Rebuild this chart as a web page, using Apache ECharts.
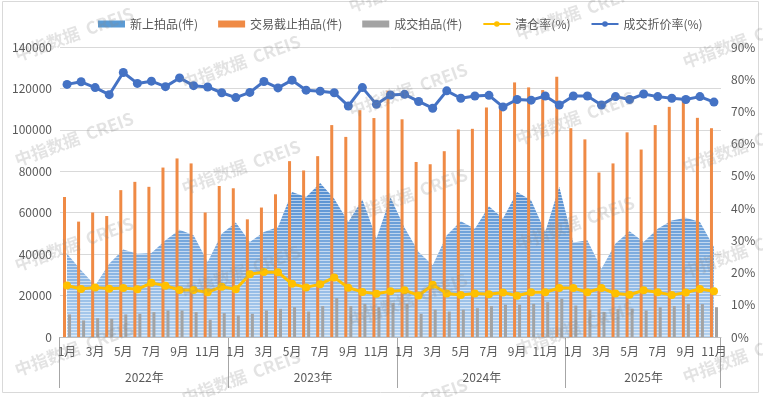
<!DOCTYPE html>
<html>
<head>
<meta charset="utf-8">
<script src="https://cdn.jsdelivr.net/npm/echarts@6/dist/echarts.min.js"></script>
<style>
html,body{margin:0;padding:0;background:#fff;}
#chart{width:763px;height:397px;}
</style>
</head>
<body>
<div id="chart"></div>
<script>
// ---- data ----
const years = ['2022年', '2023年', '2024年', '2025年'];
const monthsPerYear = [12, 12, 12, 11];
const monthNames = ['1月','2月','3月','4月','5月','6月','7月','8月','9月','10月','11月','12月'];

const newListed = [
  40200, 32200, 24900, 35400, 42300, 40200, 40500, 46700, 51800, 49100, 36200, 49900,
  55300, 45900, 50700, 53100, 70000, 67600, 74400, 66800, 55500, 66400, 47500, 67300,
  52700, 41000, 34600, 49100, 55900, 52300, 63100, 57200, 70000, 66000, 50700, 72500,
  45600, 46700, 33000, 45100, 51000, 45900, 52300, 56300, 57600, 55500, 43400
];
const deadlineItems = [
  67600, 55700, 60100, 58400, 70900, 74900, 72500, 81800, 86200, 83800, 60100, 72900,
  71800, 56800, 62500, 68900, 84900, 80400, 87300, 102300, 96600, 109500, 105700, 118900,
  105100, 84500, 83400, 89700, 100200, 100500, 110800, 111500, 122900, 120500, 119200, 125600,
  100800, 95400, 79400, 83800, 98800, 90500, 102300, 111100, 114700, 105800, 100800
];
const dealtItems = [
  10900, 8000, 9100, 8800, 10900, 11200, 12000, 12800, 12800, 12000, 8300, 11500,
  10400, 11200, 12800, 13600, 14400, 12300, 14900, 18800, 14900, 16000, 14400, 16400,
  16000, 11200, 13200, 12300, 13200, 13900, 14900, 15600, 15600, 16000, 16800, 18500,
  15200, 13200, 12000, 13600, 13600, 12800, 14400, 14900, 16000, 15900, 14400
];
const clearanceRate = [
  16.0, 14.9, 15.4, 15.0, 15.2, 14.8, 16.8, 15.9, 14.6, 14.6, 13.9, 15.6,
  14.8, 19.5, 20.2, 20.1, 16.5, 15.4, 16.4, 18.5, 15.3, 14.0, 13.4, 14.2,
  14.5, 12.9, 16.2, 13.5, 13.0, 13.5, 13.3, 13.8, 12.8, 13.9, 13.9, 15.2,
  15.2, 13.9, 15.2, 13.5, 13.1, 14.5, 13.9, 13.0, 13.8, 14.9, 14.2
];
const discountRate = [
  78.4, 79.2, 77.4, 75.2, 82.1, 78.7, 79.4, 77.7, 80.4, 78.0, 77.6, 75.8,
  74.3, 75.9, 79.3, 77.3, 79.7, 76.6, 76.3, 75.8, 71.7, 77.4, 72.2, 75.1,
  75.3, 73.1, 71.0, 76.4, 74.1, 74.8, 75.0, 71.4, 73.7, 73.5, 74.8, 72.0,
  74.8, 74.8, 72.0, 74.6, 73.7, 75.4, 74.6, 74.1, 73.7, 74.6, 72.9
];
const seriesNames = ['新上拍品(件)', '交易截止拍品(件)', '成交拍品(件)', '清仓率(%)', '成交折价率(%)'];
const leftTicks = { min: 0, max: 140000, interval: 20000 };
const rightTicks = { min: 0, max: 90, interval: 10 };

// categories built from the year/month lists
const categories = [];
years.forEach((y, yi) => {
  for (let m = 0; m < monthsPerYear[yi]; m++) categories.push(y + monthNames[m]);
});
const monthOf = c => c.replace(/^\d+年/, '');

const FONT = '"Noto Sans CJK SC", "Noto Sans", sans-serif';
const TXT = '#595959';

// striped gradient pattern for the area
function makeAreaPattern() {
  const c = document.createElement('canvas');
  c.width = 4; c.height = 400;
  const ctx = c.getContext('2d');
  const top = [80, 140, 208], bot = [180, 210, 240];
  for (let y = 0; y < 400; y++) {
    const t = Math.min(1, Math.max(0, (y - 180) / (337 - 180)));
    let col = top.map((v, i) => v + (bot[i] - v) * t);
    if (y % 3 === 2) col = col.map(v => v + (255 - v) * 0.55);
    ctx.fillStyle = 'rgb(' + col.map(Math.round).join(',') + ')';
    ctx.fillRect(0, y, 4, 1);
  }
  return c;
}

const chart = echarts.init(document.getElementById('chart'), null, { renderer: 'canvas' });

const option = {
  animation: false,
  textStyle: { fontFamily: FONT },
  legend: {
    left: 93, top: 13,
    itemWidth: 27, itemHeight: 7, itemGap: 20,
    textStyle: { color: TXT, fontSize: 12, fontFamily: FONT },
    data: [
      { name: seriesNames[0], icon: 'rect' },
      { name: seriesNames[1], icon: 'rect' },
      { name: seriesNames[2], icon: 'rect' },
      { name: seriesNames[3] },
      { name: seriesNames[4] }
    ]
  },
  grid: { left: 60, right: 42, top: 47, bottom: 60, containLabel: false },
  xAxis: [{
    type: 'category',
    data: categories,
    boundaryGap: true,
    axisLine: { show: true, lineStyle: { color: '#BFBFBF', width: 1 } },
    axisTick: { show: false },
    axisLabel: {
      interval: 1, margin: 8, color: TXT, fontSize: 12, fontFamily: FONT,
      formatter: v => monthOf(v)
    },
    splitLine: { show: false }
  }],
  yAxis: [{
    type: 'value', min: leftTicks.min, max: leftTicks.max, interval: leftTicks.interval,
    axisLine: { show: false }, axisTick: { show: false },
    axisLabel: { color: TXT, fontSize: 12, margin: 8, fontFamily: FONT, formatter: v => String(v) },
    splitLine: { lineStyle: { color: '#D9D9D9', width: 1 } }
  }, {
    type: 'value', min: rightTicks.min, max: rightTicks.max, interval: rightTicks.interval,
    position: 'right',
    axisLine: { show: false }, axisTick: { show: false },
    axisLabel: { color: TXT, fontSize: 12, margin: 10, fontFamily: FONT, formatter: '{value}%' },
    splitLine: { show: false }
  }],
  series: [{
    name: seriesNames[0], type: 'line', data: newListed, yAxisIndex: 0,
    symbol: 'none', lineStyle: { width: 0, opacity: 0 },
    itemStyle: { color: '#5B9BD5' },
    areaStyle: { color: { image: makeAreaPattern(), repeat: 'repeat' }, opacity: 1 },
    z: 1
  }, {
    name: seriesNames[1], type: 'bar', data: deadlineItems, yAxisIndex: 0,
    barWidth: 3, barGap: '67%',
    itemStyle: { color: '#EF8A45' }, z: 2
  }, {
    name: seriesNames[2], type: 'bar', data: dealtItems, yAxisIndex: 0,
    barWidth: 3, barGap: '67%',
    itemStyle: { color: '#A3A3A3' }, z: 2
  }, {
    name: seriesNames[3], type: 'line', data: clearanceRate, yAxisIndex: 1,
    symbol: 'circle', symbolSize: 8,
    lineStyle: { color: '#FFC000', width: 3 },
    itemStyle: { color: '#FFC000' }, z: 3
  }, {
    name: seriesNames[4], type: 'line', data: discountRate, yAxisIndex: 1,
    symbol: 'circle', symbolSize: 9,
    lineStyle: { color: '#4472C4', width: 3 },
    itemStyle: { color: '#4472C4' }, z: 4
  }]
};
chart.setOption(option);

// --- year grouping level of the category axis, placed through the axis scale ---
const c0 = chart.convertToPixel({ xAxisIndex: 0 }, 0);
const c1 = chart.convertToPixel({ xAxisIndex: 0 }, 1);
const band = c1 - c0;
const axisY = chart.convertToPixel({ yAxisIndex: 0 }, 0);
const graphics = [];
let start = 0;
const boundaries = [];
years.forEach((y, yi) => {
  const first = chart.convertToPixel({ xAxisIndex: 0 }, start) - band / 2;
  const last = chart.convertToPixel({ xAxisIndex: 0 }, start + monthsPerYear[yi] - 1) + band / 2;
  if (yi === 0) boundaries.push(first);
  boundaries.push(last);
  graphics.push({
    type: 'text', x: (first + last) / 2, y: axisY + 40, silent: true,
    style: { text: y, fill: TXT, fontSize: 12, fontFamily: FONT, align: 'center', verticalAlign: 'middle' }
  });
  start += monthsPerYear[yi];
});
boundaries.forEach(bx => {
  const x = Math.round(bx) - 0.5;
  graphics.push({
    type: 'line', silent: true,
    shape: { x1: x, y1: axisY, x2: x, y2: axisY + 51 },
    style: { stroke: '#A6A6A6', lineWidth: 1 }
  });
});
// chart frame
graphics.push({
  type: 'rect', silent: true,
  shape: { x: 2.5, y: 1.5, width: 756, height: 391 },
  style: { fill: 'none', stroke: '#D9D9D9', lineWidth: 1 }
});
// watermark tiles
const wmCols = [74, 241, 408, 575, 742];
wmCols.forEach((cx, ci) => {
  for (let k = -1; k < 4; k++) {
    const cy = 34 + 28 * ci + 105 * k;
    if (cy < -30 || cy > 420) continue;
    graphics.push({
      type: 'text', x: cx, y: cy, rotation: 0.35, silent: true, z: 100,
      style: {
        text: '中指数据  CREIS', fill: 'rgba(140,140,140,0.24)',
        fontSize: 17, fontWeight: 'bold', fontFamily: FONT,
        align: 'center', verticalAlign: 'middle'
      }
    });
  }
});
chart.setOption({ graphic: graphics });
</script>
</body>
</html>
